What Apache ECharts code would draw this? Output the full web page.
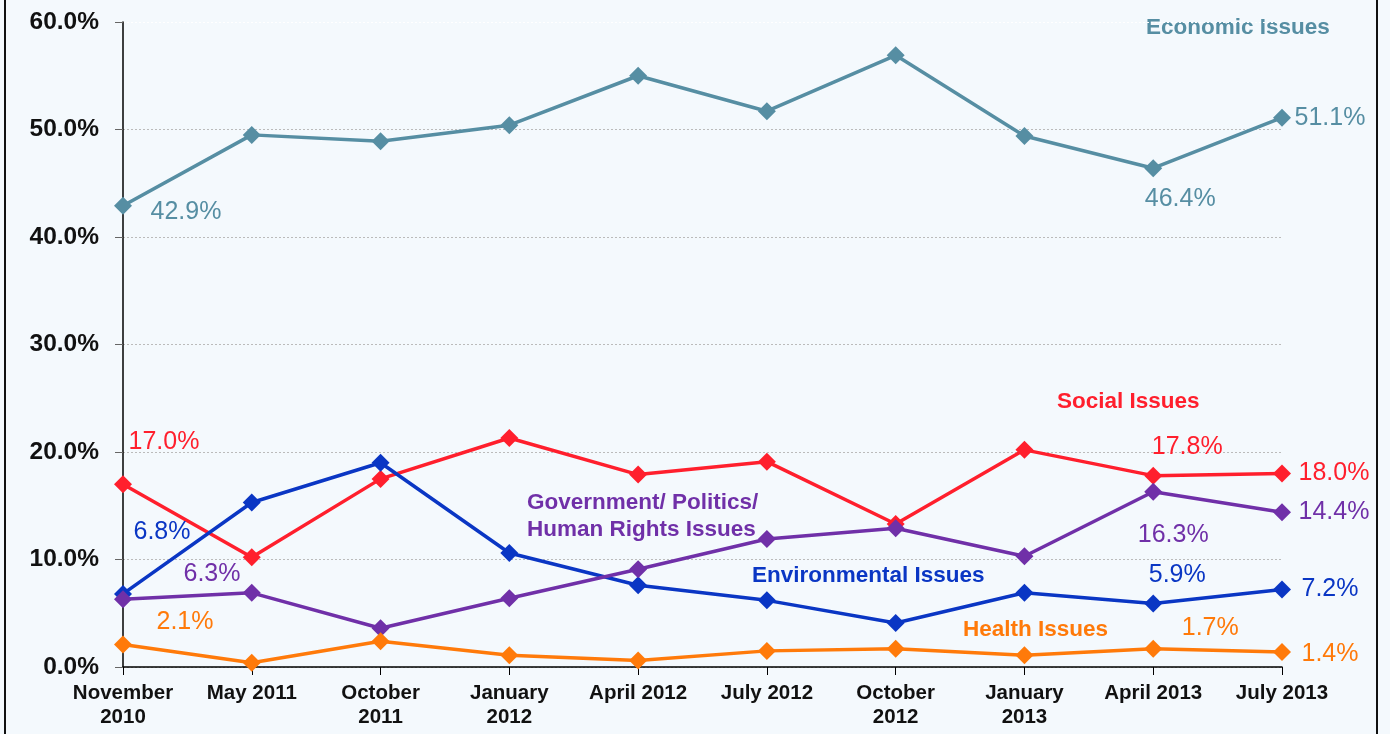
<!DOCTYPE html>
<html><head><meta charset="utf-8">
<script src="https://cdn.jsdelivr.net/npm/echarts@6/dist/echarts.min.js"></script>
<style>html,body{margin:0;padding:0;background:#f4f9fd}#c{width:1390px;height:734px}</style>
</head><body><div id="c"></div>
<script>
const categories = ['November\n2010','May 2011','October\n2011','January\n2012','April 2012','July 2012','October\n2012','January\n2013','April 2013','July 2013'];
const economic = [42.9,49.5,48.9,50.4,55.0,51.7,56.9,49.4,46.4,51.1];
const social = [17.0,10.2,17.5,21.3,17.9,19.1,13.3,20.2,17.8,18.0];
const environmental = [6.8,15.3,19.0,10.6,7.6,6.2,4.1,6.9,5.9,7.2];
const government = [6.3,6.9,3.6,6.4,9.1,11.9,12.9,10.3,16.3,14.4];
const health = [2.1,0.4,2.4,1.1,0.6,1.5,1.7,1.1,1.7,1.4];
const yTicks = [0,10,20,30,40,50,60];

const colors = {eco:'#568ea3', soc:'#ff1f2d', env:'#0a36c4', gov:'#7030a8', hea:'#ff7a0a'};
// label offsets (index -> [dx,dy]) for labelled points
const labelOffsets = {
  eco:{0:[63,6],8:[27,31],9:[48,0]},
  soc:{0:[41,-42],8:[34,-29],9:[52,0]},
  env:{0:[39,-62],8:[24,-28],9:[48,0]},
  gov:{0:[89,-25],8:[20,43],9:[52,0]},
  hea:{0:[62,-22],8:[57,-21],9:[48,2]}
};
function mkData(vals, key){
  return vals.map((v,i)=>{
    const off = labelOffsets[key][i];
    if(!off) return v;
    return {value:v, label:{show:true, position:'inside', offset:off,
      formatter: p=>p.value.toFixed(1)+'%', color:colors[key],
      fontSize:25, fontFamily:'Liberation Sans, Arial, sans-serif'}};
  });
}
function mkSeries(name, vals, key){
  return {name, type:'line', data:mkData(vals,key), symbol:'diamond', symbolSize:18,
    lineStyle:{width:3.5,color:colors[key]}, itemStyle:{color:colors[key]},
    label:{show:false}, emphasis:{disabled:true}, z:3};
}
const chart = echarts.init(document.getElementById('c'));
const nameFont = {fontSize:22.5, fontWeight:'bold', fontFamily:'Liberation Sans, Arial, sans-serif'};
chart.setOption({
  backgroundColor:'#f4f9fd',
  animation:false,
  grid:{left:123, right:108, top:22, bottom:67},
  xAxis:{type:'category', data:categories, boundaryGap:false,
    axisLine:{lineStyle:{color:'#000',width:1.5}},
    axisTick:{show:true, length:8, alignWithLabel:true, lineStyle:{color:'#000'}},
    axisLabel:{color:'#111', fontSize:20.5, fontWeight:'bold', lineHeight:24, margin:14, interval:0,
      fontFamily:'Liberation Sans, Arial, sans-serif'},
    splitLine:{show:false}},
  yAxis:{type:'value', min:yTicks[0], max:yTicks[yTicks.length-1], interval:10,
    axisLine:{show:true, lineStyle:{color:'#000',width:1.5}},
    axisTick:{show:true, length:8, lineStyle:{color:'#666'}},
    axisLabel:{color:'#111', fontSize:24.5, fontWeight:'bold', margin:24,
      formatter:v=>v.toFixed(1)+'%', fontFamily:'Liberation Sans, Arial, sans-serif'},
    splitLine:{show:true, lineStyle:{color:['#bbbbbb','#bbbbbb','#bbbbbb','#bbbbbb','#bbbbbb','#bbbbbb','#ffffff'], type:[2,2], width:1}}},
  series:[
    mkSeries('Economic Issues', economic, 'eco'),
    mkSeries('Social Issues', social, 'soc'),
    mkSeries('Environmental Issues', environmental, 'env'),
    mkSeries('Government/ Politics/ Human Rights Issues', government, 'gov'),
    mkSeries('Health Issues', health, 'hea')
  ],
  graphic:[
    {type:'rect', left:4, top:0, shape:{width:2,height:734}, style:{fill:'#111'}},
    {type:'rect', left:1376, top:0, shape:{width:2,height:734}, style:{fill:'#111'}},
    {type:'text', left:1146, top:16, style:Object.assign({text:'Economic Issues', fill:colors.eco}, nameFont)},
    {type:'text', left:1057, top:390, style:Object.assign({text:'Social Issues', fill:colors.soc}, nameFont)},
    {type:'text', left:527, top:489, style:Object.assign({text:'Government/ Politics/\nHuman Rights Issues', fill:colors.gov, lineHeight:27}, nameFont)},
    {type:'text', left:752, top:564, style:Object.assign({text:'Environmental Issues', fill:colors.env}, nameFont)},
    {type:'text', left:963, top:618, style:Object.assign({text:'Health Issues', fill:colors.hea}, nameFont)}
  ]
});
</script></body></html>
